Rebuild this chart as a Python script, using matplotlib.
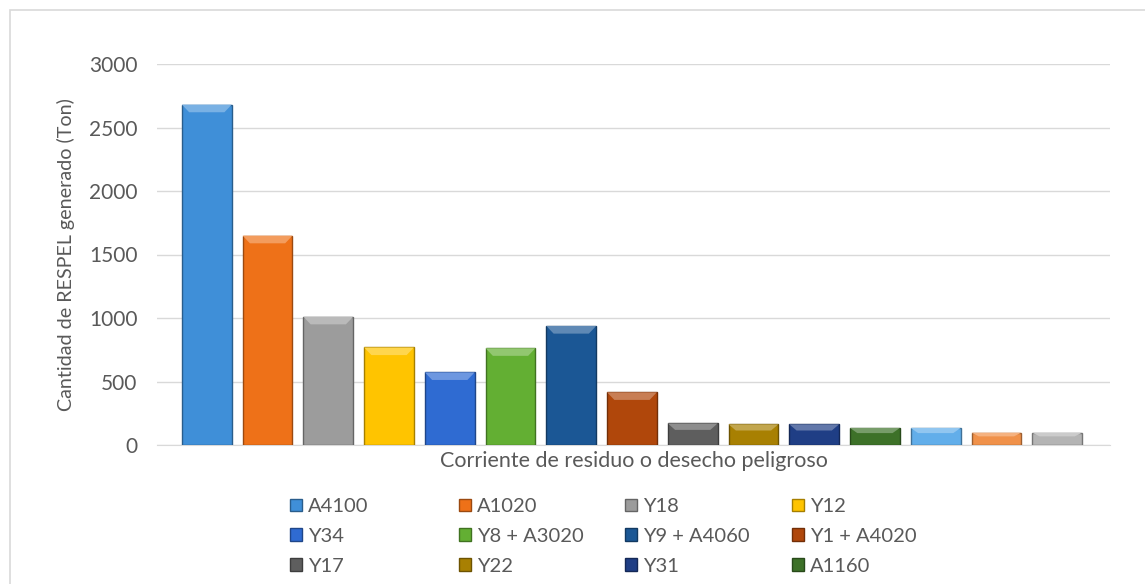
import numpy as np
import matplotlib.pyplot as plt
from matplotlib.patches import Rectangle, Polygon
from matplotlib.colors import to_rgb

plt.rcParams['font.family'] = ['Lato', 'DejaVu Sans']

# Data
labels = ["A4100", "A1020", "Y18", "Y12", "Y34", "Y8 + A3020", "Y9 + A4060",
          "Y1 + A4020", "Y17", "Y22", "Y31", "A1160"]
values = [2680, 1648, 1010, 768, 572, 762, 937, 415, 170, 163, 163, 134, 134, 97, 97]
colors = ["#3F8FD8", "#EE7118", "#9C9C9C", "#FFC400", "#2F6BD2", "#63AF33",
          "#1B5795", "#B0470B", "#5E5E5E", "#A88002", "#1F3E85", "#3D7128",
          "#62AEEA", "#F0914A", "#B4B4B4"]
yticks = [0, 500, 1000, 1500, 2000, 2500, 3000]

TXT = "#595959"


def shade(c, f):
    r = np.array(to_rgb(c))
    if f > 0:
        return tuple(r + (1 - r) * f)
    return tuple(r * (1 + f))


fig = plt.figure(figsize=(11.45, 5.84), dpi=100)
# chart frame
fig.patches.append(Rectangle((10 / 1145, -0.1), 1.2, 1 - 10 / 584 + 0.1,
                             transform=fig.transFigure, fill=False,
                             edgecolor="#D9D9D9", lw=1.2))

ax = fig.add_axes([157 / 1145, 1 - 445 / 584, 953 / 1145, 381 / 584])
x = np.arange(len(values))
w = 0.82
bars = ax.bar(x, values, width=w, color=colors, zorder=3)
for b, c in zip(bars, colors):
    b.set_edgecolor(shade(c, -0.35))
    b.set_linewidth(1.0)
    # little bevel on top, like the Excel effect
    x0, y0 = b.get_x(), b.get_y()
    bw, bh = b.get_width(), b.get_height()
    d = min(60, bh * 0.3)
    ins = 0.12
    ax.add_patch(Polygon([(x0, y0 + bh), (x0 + bw, y0 + bh),
                          (x0 + bw - ins, y0 + bh - d), (x0 + ins, y0 + bh - d)],
                         closed=True, color=shade(c, 0.3), lw=0, zorder=4))

ax.set_xlim(-0.82, len(values) - 1 + 0.87)
ax.set_ylim(0, 3000)
ax.set_yticks(yticks)
ax.set_xticks([])
ax.yaxis.grid(True, color="#D9D9D9", lw=1)
ax.set_axisbelow(True)
for s in ["top", "right", "left"]:
    ax.spines[s].set_visible(False)
ax.spines["bottom"].set_color("#D9D9D9")
ax.tick_params(axis="y", length=0, labelsize=15, labelcolor=TXT, pad=14)
ax.set_ylabel("Cantidad de RESPEL generado (Ton)", fontsize=14.2, color=TXT, labelpad=10)
ax.set_xlabel("Corriente de residuo o desecho peligroso", fontsize=15.5, color=TXT, labelpad=4)

# legend: four columns of equal width, filled row by row like Excel
handles = [Rectangle((0, 0), 1, 1, facecolor=c, edgecolor=shade(c, -0.35))
           for c in colors[:len(labels)]]
col_x = [290, 459, 625, 792]
for j, cx in enumerate(col_x):
    idx = list(range(j, len(labels), 4))
    fig.legend([handles[i] for i in idx], [labels[i] for i in idx],
               loc="upper left", bbox_to_anchor=(cx / 1145, 1 - 498 / 584),
               frameon=False, fontsize=14.5, handlelength=0.6, handleheight=0.6,
               handletextpad=0.3, labelspacing=0.64,
               labelcolor=TXT, borderaxespad=0, borderpad=0)

fig.savefig("out.png", dpi=100)
